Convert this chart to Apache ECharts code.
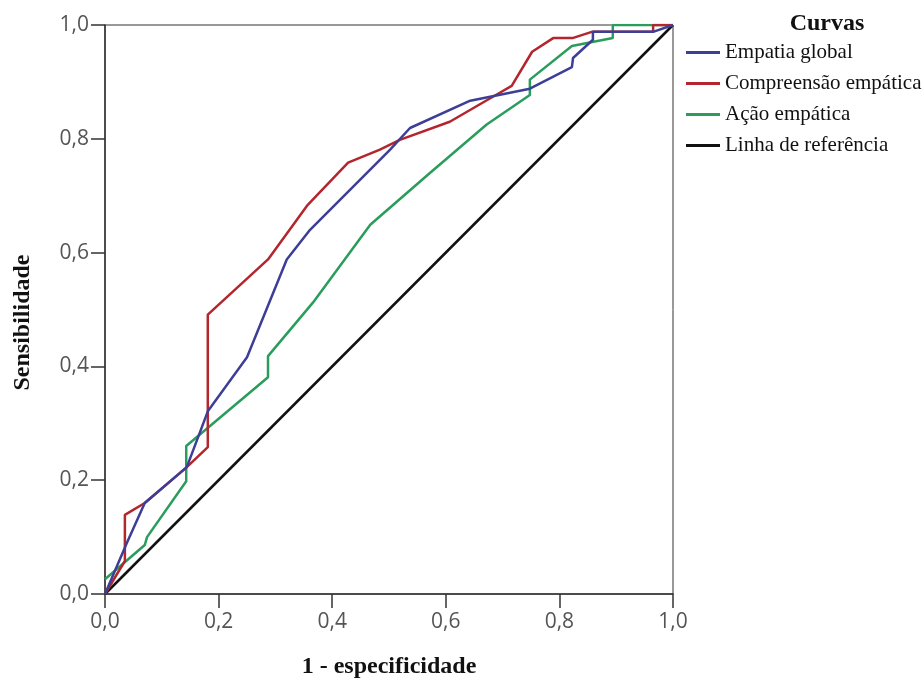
<!DOCTYPE html>
<html>
<head>
<meta charset="utf-8">
<script src="https://cdn.jsdelivr.net/npm/echarts@6.0.0/dist/echarts.min.js"></script>
<style>
  html, body { margin: 0; padding: 0; background: #fff; }
  #chart { width: 923px; height: 680px; }
</style>
</head>
<body>
<div id="chart"></div>
<script>
  // curvas ROC
  var empatiaX = [0, 0.039, 0.070, 0.144, 0.181, 0.250, 0.320, 0.361, 0.502, 0.537, 0.643, 0.748, 0.822, 0.824, 0.859, 0.859, 0.965, 1.0];
  var empatiaY = [0, 0.091, 0.160, 0.223, 0.321, 0.416, 0.588, 0.640, 0.781, 0.819, 0.867, 0.888, 0.926, 0.942, 0.974, 0.988, 0.988, 1.0];

  var compreensaoX = [0, 0.035, 0.035, 0.070, 0.144, 0.181, 0.181, 0.287, 0.357, 0.428, 0.484, 0.519, 0.607, 0.695, 0.716, 0.752, 0.789, 0.823, 0.857, 0.965, 0.965, 1.0];
  var compreensaoY = [0, 0.058, 0.139, 0.160, 0.223, 0.258, 0.491, 0.588, 0.684, 0.758, 0.781, 0.798, 0.830, 0.881, 0.893, 0.953, 0.977, 0.977, 0.988, 0.988, 1.0, 1.0];

  var acaoX = [0, 0.070, 0.074, 0.143, 0.143, 0.287, 0.287, 0.366, 0.467, 0.572, 0.672, 0.748, 0.748, 0.822, 0.894, 0.894, 1.0];
  var acaoY = [0.026, 0.086, 0.100, 0.198, 0.260, 0.381, 0.418, 0.512, 0.649, 0.740, 0.825, 0.877, 0.904, 0.963, 0.977, 1.0, 1.0];

  var referenciaX = [0, 1];
  var referenciaY = [0, 1];

  var nomes = ["Empatia global", "Compreensão empática", "Ação empática", "Linha de referência"];
  var cores = ["#3d3f97", "#b3262e", "#2a9d5c", "#111111"];

  function pares(xs, ys) {
    return xs.map(function (x, i) { return [x, ys[i]]; });
  }

  var dados = [
    pares(empatiaX, empatiaY),
    pares(compreensaoX, compreensaoY),
    pares(acaoX, acaoY),
    pares(referenciaX, referenciaY)
  ];

  function virgula(v) { return v.toFixed(1).replace(".", ","); }

  var serif = "Liberation Serif";
  var sans = "Open Sans";

  var chart = echarts.init(document.getElementById("chart"));
  chart.setOption({
    animation: false,
    title: {
      text: "Curvas",
      left: 822,
      top: 7,
      textAlign: "center",
      textStyle: { fontFamily: serif, fontWeight: "bold", fontSize: 24, color: "#111" }
    },
    legend: {
      orient: "vertical",
      left: 681,
      top: 37,
      itemWidth: 34,
      itemHeight: 3,
      itemGap: 10,
      icon: "rect",
      data: nomes,
      textStyle: { fontFamily: serif, fontSize: 21, color: "#111" }
    },
    grid: {
      left: 105, right: 250, top: 25, bottom: 86,
      outerBoundsMode: "none",
      show: true, borderColor: "#333", borderWidth: 1
    },
    xAxis: {
      type: "value", min: 0, max: 1, interval: 0.2,
      name: "1 - especificidade",
      nameLocation: "middle",
      nameGap: 61,
      nameTextStyle: { fontFamily: serif, fontWeight: "bold", fontSize: 24, color: "#111" },
      axisLine: { lineStyle: { color: "#333", width: 1.5 } },
      axisTick: { length: 14, lineStyle: { color: "#333", width: 1.5 } },
      axisLabel: { formatter: virgula, fontFamily: sans, fontSize: 21, color: "#555", margin: 18 },
      splitLine: { show: false }
    },
    yAxis: {
      type: "value", min: 0, max: 1, interval: 0.2,
      name: "Sensibilidade",
      nameLocation: "middle",
      nameGap: 70,
      nameTextStyle: { fontFamily: serif, fontWeight: "bold", fontSize: 24, color: "#111", padding: [0, 26, 0, 0] },
      axisLine: { show: true, lineStyle: { color: "#333", width: 1.5 } },
      axisTick: { show: true, length: 14, lineStyle: { color: "#333", width: 1.5 } },
      axisLabel: { formatter: virgula, fontFamily: sans, fontSize: 21, color: "#555", margin: 16 },
      splitLine: { show: false }
    },
    series: nomes.map(function (n, i) {
      return {
        name: n,
        type: "line",
        data: dados[i],
        symbol: "none",
        z: i === 3 ? 1 : 5 - i,
        itemStyle: { color: cores[i] },
        lineStyle: { color: cores[i], width: 2.5 }
      };
    })
  });
</script>
</body>
</html>
